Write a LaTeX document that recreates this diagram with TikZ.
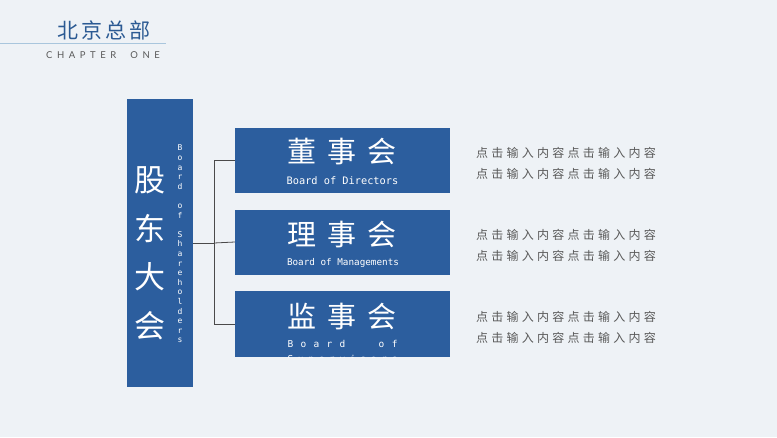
\documentclass[tikz,border=0pt]{standalone}
\usepackage{fontspec}
\newfontfamily\cjk{Noto Sans CJK SC}
\newfontfamily\mono{DejaVu Sans Mono}
\newfontfamily\lat{Lato}
\definecolor{bgc}{HTML}{EEF2F6}
\definecolor{mainblue}{HTML}{2C5E9E}
\definecolor{titleblue}{HTML}{2B5A93}
\definecolor{rulec}{HTML}{A9C6DD}
\definecolor{txtgray}{HTML}{595959}
\definecolor{linec}{HTML}{4A4A4A}
\tikzset{
  bluebox/.style={fill=mainblue, draw=none, inner sep=0pt},
  boxtitle/.style={text=white, inner sep=0pt, font=\cjk\fontsize{29}{32}\selectfont\addfontfeature{LetterSpace=38}},
  boxsub/.style={text=white, inner sep=0pt},
  desc/.style={text=txtgray, inner sep=0pt, anchor=west, align=left, font=\cjk\fontsize{12}{21}\selectfont\addfontfeature{LetterSpace=27}},
  conn/.style={draw=linec, line width=0.8pt}
}
\begin{document}
\begin{tikzpicture}[x=1pt,y=-1pt]
\useasboundingbox (0,0) rectangle (777,437);
\fill[bgc] (0,0) rectangle (777,437);

% header
\node[text=titleblue, inner sep=0pt, anchor=west, font=\cjk\fontsize{21}{24}\selectfont\addfontfeature{LetterSpace=15}] (title) at (57,30) {北京总部};
\draw[rulec, line width=0.8pt] (0,43) -- (166,43);
\node[text=txtgray, inner sep=0pt, anchor=west, font=\lat\fontsize{9.5}{10}\selectfont\addfontfeature{LetterSpace=48}] (chap) at (46,55.5) {CHAPTER\kern7pt\ ONE};

% tall box
\node[bluebox, minimum width=66pt, minimum height=288pt] (sh) at (159.5,243) {};
\node[text=white, inner sep=0pt, align=center, font=\cjk\fontsize{31}{48.5}\selectfont] (shcn) at (150,253.5) {股\\东\\大\\会};
\node[text=white, inner sep=0pt, align=center, font=\mono\fontsize{8}{9.6}\selectfont] (shen) at (180,244) {B\\o\\a\\r\\d\\\strut\\o\\f\\\strut\\S\\h\\a\\r\\e\\h\\o\\l\\d\\e\\r\\s};

% boxes
\node[bluebox, minimum width=215pt, minimum height=65pt] (b1) at (342.5,160.5) {};
\node[bluebox, minimum width=215pt, minimum height=65pt] (b2) at (342.5,242) {};
\node[bluebox, minimum width=215pt, minimum height=66pt] (b3) at (342.5,324) {};

\node[boxtitle] (t1) at (342,151.5) {董事会};
\node[boxsub, font=\mono\fontsize{10.3}{12}\selectfont] (s1) at (342.5,181) {Board of Directors};
\node[boxtitle] (t2) at (342,235) {理事会};
\node[boxsub, font=\mono\fontsize{9.3}{12}\selectfont] (s2) at (343,262.5) {Board of Managements};
\node[boxtitle] (t3) at (342,316.5) {监事会};
\begin{scope}
  \clip (b3.north west) rectangle (b3.south east);
  \node[boxsub, anchor=north, align=left, font=\mono\fontsize{9.5}{15}\selectfont] (s3) at (342.5,340) {\makebox[110pt][s]{B\hfill o\hfill a\hfill r\hfill d\hfill\ \hfill\ \hfill o\hfill f}\\\makebox[110pt][s]{S\hfill u\hfill p\hfill e\hfill r\hfill v\hfill i\hfill s\hfill o\hfill r\hfill s}};
\end{scope}

% connectors
\coordinate (j) at (214,243);
\draw[conn] (sh.east) -- (j);
\draw[conn] (j) |- (b1.west);
\draw[conn] (j) |- (b3.west);
\draw[conn] (j) -- (b2.west);

% descriptions
\node[desc] (d1) at (476,163.5) {点击输入内容点击输入内容\\点击输入内容点击输入内容};
\node[desc] (d2) at (476,245) {点击输入内容点击输入内容\\点击输入内容点击输入内容};
\node[desc] (d3) at (476,327.5) {点击输入内容点击输入内容\\点击输入内容点击输入内容};
\end{tikzpicture}
\end{document}
